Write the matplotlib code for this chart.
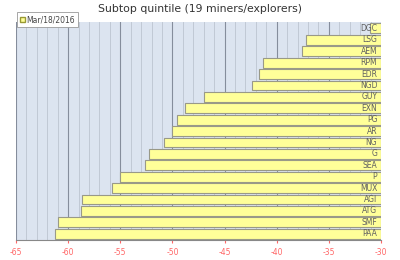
import numpy as np
import matplotlib
matplotlib.use('Agg')
import matplotlib.pyplot as plt
import matplotlib.ticker as ticker
from matplotlib.patches import Patch

# ********************************
# Data
# ********************************
tickers = ['DGC', 'LSG', 'AEM', 'RPM', 'EDR', 'NGD', 'GUY', 'EXN', 'PG', 'AR',
           'NG', 'G', 'SEA', 'P', 'MUX', 'AGI', 'ATG', 'SMF', 'PAA']
values = [-31.1, -37.2, -37.6, -41.3, -41.7, -42.4, -47.0, -48.8, -49.6, -50.0,
          -50.8, -52.2, -52.6, -55.0, -55.8, -58.7, -58.8, -61.0, -61.25]
series_label = 'Mar/18/2016'
title_text = 'Subtop quintile (19 miners/explorers)'

x_min = -65
x_max = -30

bar_color = '#ffff99'
bar_edge = '#999988'
plot_bg = '#dce4f0'
tick_color = '#ff6666'

fig1 = plt.figure(figsize=(4.0, 2.6), dpi=100)
ax1 = fig1.add_axes([0.04, 0.077, 0.9125, 0.838])
ax1.set_facecolor(plot_bg)

y_pos = np.arange(len(tickers))[::-1]

# vertical grid: light every 1, darker every 5
ax1.xaxis.set_major_locator(ticker.MultipleLocator(5))
ax1.xaxis.set_minor_locator(ticker.MultipleLocator(1))
ax1.grid(which='minor', axis='x', color='#bcc4d0', linewidth=0.6)
ax1.grid(which='major', axis='x', color='#858d9c', linewidth=0.8)
ax1.set_axisbelow(True)

# bars start at the right edge (x_max) and extend left to the value
widths = [v - x_max for v in values]
ax1.barh(y_pos, widths, left=x_max, height=0.86, color=bar_color,
         edgecolor=bar_edge, linewidth=0.8, zorder=3)

for yy, name in zip(y_pos, tickers):
    ax1.text(x_max - 0.35, yy, name, ha='right', va='center', fontsize=5.5,
             color='#606060', zorder=4)

ax1.set_xlim(x_min, x_max)
ax1.set_ylim(-0.55, len(tickers) - 0.45)
ax1.set_yticks([])

ax1.tick_params(axis='x', which='major', colors=tick_color, labelsize=5.5,
                length=2, pad=4)
ax1.tick_params(axis='x', which='minor', length=0)
ax1.xaxis.set_major_formatter(ticker.FuncFormatter(lambda v, p: '%d' % v))

for side in ['top', 'right', 'left']:
    ax1.spines[side].set_visible(False)
ax1.spines['bottom'].set_color('#888888')
ax1.spines['bottom'].set_linewidth(0.8)

fig1.text(0.5, 0.965, title_text, ha='center', va='center', fontsize=7.8,
          color='#333333')

leg1 = ax1.legend(handles=[Patch(facecolor=bar_color, edgecolor='#999933',
                                 label=series_label)],
                  loc='upper left', bbox_to_anchor=(0.003, 1.045), fontsize=5.5,
                  frameon=True, fancybox=False, handlelength=0.6,
                  handleheight=0.6, handletextpad=0.2, borderpad=0.4,
                  borderaxespad=0.0, labelcolor='#444444')
frame1 = leg1.get_frame()
frame1.set_facecolor('white')
frame1.set_edgecolor('#999999')
frame1.set_linewidth(0.6)
frame1.set_alpha(1.0)

fig1.savefig('out.png', dpi=100)
